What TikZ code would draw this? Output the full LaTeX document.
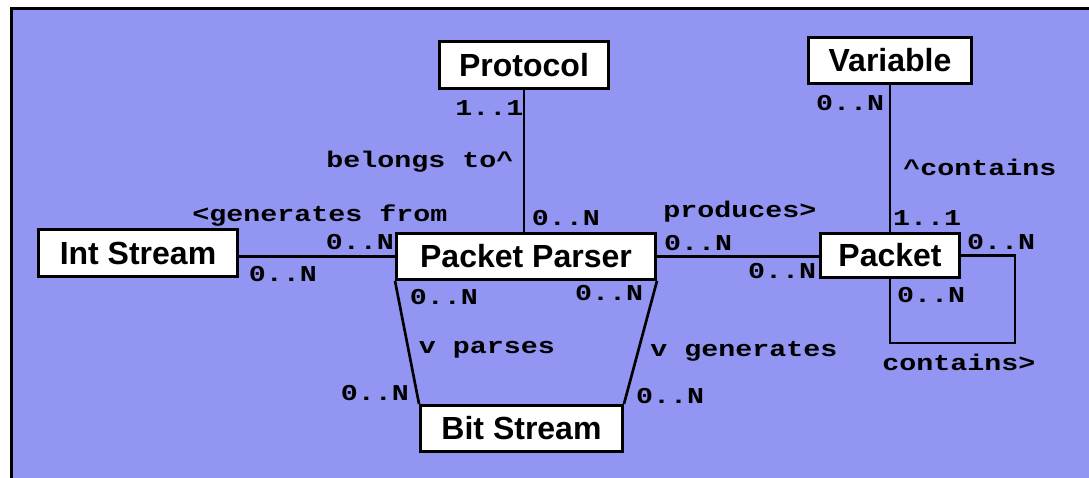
\documentclass[tikz,border=0pt]{standalone}
\usepackage{fontspec}
\setmainfont{Liberation Sans}
\newfontfamily\monof[FakeStretch=1.25]{Liberation Mono}
\definecolor{bgblue}{RGB}{146,150,242}
\tikzset{
  entity/.style={draw=black, fill=white, line width=2.2pt, inner sep=0pt,
    font=\fontsize{24}{28}\selectfont\bfseries},
  lbl/.style={anchor=base, inner sep=0pt, font=\fontsize{17}{20}\selectfont\monof\bfseries},
  conn/.style={draw=black, line width=2pt}
}
\begin{document}
\begin{tikzpicture}[x=0.75pt, y=-0.75pt]
\useasboundingbox (0,0) rectangle (1089,478);
\fill[white] (0,0) rectangle (1089,478);
\fill[bgblue] (12,8) rectangle (1089,478);
\draw[line width=2.4pt] (11.5,478) -- (11.5,8.5) -- (1089,8.5);

% entities
\node[entity, minimum width=126.75pt, minimum height=35.25pt] (proto) at (524,65) {Protocol};
\node[entity, minimum width=122.25pt, minimum height=34.5pt] (var) at (890,60.5) {Variable};
\node[entity, minimum width=149.25pt, minimum height=35.25pt] (ints) at (138,253) {Int Stream};
\node[entity, minimum width=194.25pt, minimum height=34.5pt] (pp) at (526,256.5) {Packet Parser};
\node[entity, minimum width=104.25pt, minimum height=33pt] (pkt) at (890,255.5) {Packet};
\node[entity, minimum width=151.5pt, minimum height=34.5pt] (bs) at (521.5,428.5) {Bit Stream};

% connectors
\draw[conn] (proto.south) -- (proto.south |- pp.north);
\draw[conn] (var.south) -- (pkt.north);
\draw[conn] (pp.west) -- (pp.west -| ints.east);
\draw[conn] (pp.east) -- (pp.east -| pkt.west);
\draw[conn] (pp.south west) -- (bs.north west);
\draw[conn] (pp.south east) -- (bs.north east);
\coordinate (loopc) at (1015,343);
\draw[conn] (pkt.east) -| (loopc) -| (pkt.south);

% labels
\node[lbl] (l1) at (489.5,115) {1..1};
\node[lbl] (l2) at (420,167) {belongs to\^{}};
\node[lbl] (l3) at (566,225) {0..N};
\node[lbl] (l4) at (320,221) {<generates from};
\node[lbl] (l5) at (360,249) {0..N};
\node[lbl] (l6) at (283,281) {0..N};
\node[lbl] (l7) at (444,304) {0..N};
\node[lbl] (l8) at (609,300) {0..N};
\node[lbl] (l9) at (487,353) {v parses};
\node[lbl] (l10) at (375,400) {0..N};
\node[lbl] (l11) at (670,403) {0..N};
\node[lbl] (l12) at (744,356) {v generates};
\node[lbl] (l13) at (740,217) {produces>};
\node[lbl] (l14) at (698,250) {0..N};
\node[lbl] (l15) at (782,278) {0..N};
\node[lbl] (l16) at (850,111) {0..N};
\node[lbl] (l17) at (980,175) {\^{}contains};
\node[lbl] (l18) at (927,225) {1..1};
\node[lbl] (l19) at (1001,249) {0..N};
\node[lbl] (l20) at (931,302) {0..N};
\node[lbl] (l21) at (959,370) {contains>};
\end{tikzpicture}
\end{document}
